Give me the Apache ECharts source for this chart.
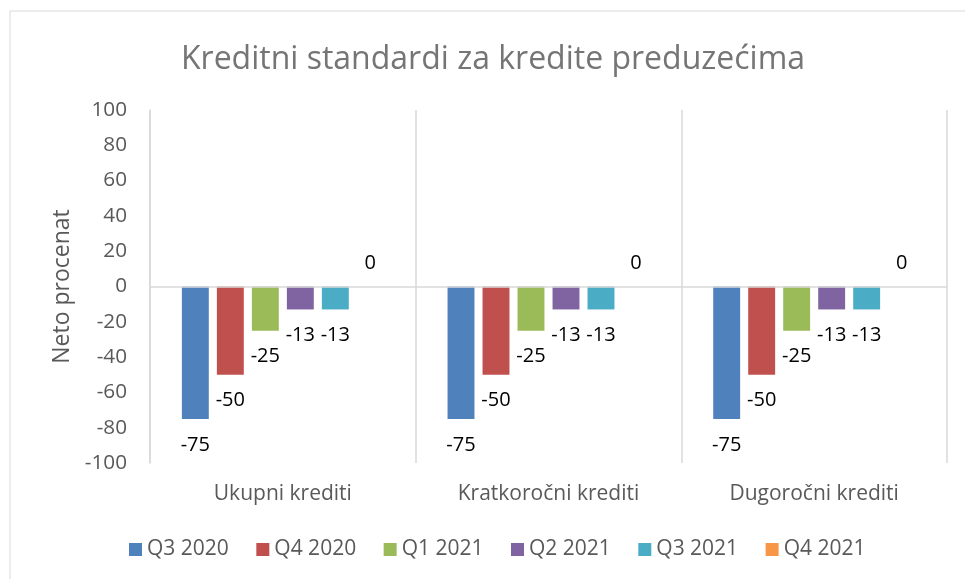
<!DOCTYPE html>
<html>
<head>
<meta charset="utf-8">
<script src="https://cdn.jsdelivr.net/npm/echarts@6/dist/echarts.min.js"></script>
<style>
html,body{margin:0;padding:0;background:#fff;}
#chart{width:965px;height:579px;}
</style>
</head>
<body>
<div id="chart"></div>
<script>
const categories = ['Ukupni krediti', 'Kratkoročni krediti', 'Dugoročni krediti'];
const seriesNames = ['Q3 2020', 'Q4 2020', 'Q1 2021', 'Q2 2021', 'Q3 2021', 'Q4 2021'];
const q3_2020 = [-75, -75, -75];
const q4_2020 = [-50, -50, -50];
const q1_2021 = [-25, -25, -25];
const q2_2021 = [-13, -13, -13];
const q3_2021 = [-13, -13, -13];
const q4_2021 = [0, 0, 0];
const seriesValues = [q3_2020, q4_2020, q1_2021, q2_2021, q3_2021, q4_2021];
const yMin = -100, yMax = 100, yStep = 20;

const colors = ['#4F81BD', '#C0504D', '#9BBB59', '#8064A2', '#4BACC6', '#F79646'];
const FONT = '"Open Sans", "Noto Sans", sans-serif';

const chart = echarts.init(document.getElementById('chart'), null, {renderer: 'canvas'});

const series = seriesValues.map((vals, i) => ({
  name: seriesNames[i],
  type: 'bar',
  barGap: '30%',
  barCategoryGap: '24%',
  itemStyle: {color: colors[i]},
  data: vals.map(v => ({
    value: v,
    label: v < 0 ? {position: 'bottom', distance: 16} : {position: 'top', distance: 13}
  })),
  label: {
    show: true,
    color: '#000',
    fontFamily: FONT,
    fontSize: 20,
    lineHeight: 20,
    formatter: '{c}'
  },
  markLine: i === 0 ? {
    silent: true,
    symbol: ['none', 'none'],
    label: {show: false},
    lineStyle: {color: '#d9d9d9', width: 1.5, type: 'solid'},
    data: [{yAxis: 0}]
  } : undefined
}));

chart.setOption({
  animation: false,
  color: colors,
  title: {
    text: 'Kreditni standardi za kredite preduzećima',
    left: 488,
    textAlign: 'center',
    top: 38,
    textStyle: {color: '#757575', fontFamily: FONT, fontSize: 32, fontWeight: 'normal', lineHeight: 34}
  },
  graphic: [{
    type: 'rect',
    shape: {x: 10, y: 11, width: 1000, height: 620},
    style: {fill: 'none', stroke: '#d9d9d9', lineWidth: 1},
    silent: true
  }],
  legend: {
    data: seriesNames,
    left: 124,
    top: 534,
    itemWidth: 13,
    itemHeight: 13,
    itemGap: 27.5,
    icon: 'rect',
    textStyle: {color: '#595959', fontFamily: FONT, fontSize: 21}
  },
  grid: {left: 150, right: 18, top: 110, bottom: 116, containLabel: false},
  xAxis: {
    type: 'category',
    data: categories,
    axisLine: {show: false, onZero: false},
    axisTick: {show: false},
    splitLine: {show: true, lineStyle: {color: '#d9d9d9', width: 1.5}},
    axisLabel: {color: '#595959', fontFamily: FONT, fontSize: 21, margin: 21}
  },
  yAxis: {
    type: 'value',
    min: yMin,
    max: yMax,
    interval: yStep,
    name: 'Neto procenat',
    nameLocation: 'middle',
    nameGap: 76,
    nameTextStyle: {color: '#595959', fontFamily: FONT, fontSize: 23},
    axisLine: {show: true, lineStyle: {color: '#d9d9d9', width: 1.5}},
    axisTick: {show: false},
    splitLine: {show: false},
    axisLabel: {color: '#595959', fontFamily: FONT, fontSize: 20.7, margin: 23}
  },
  series: series
});
</script>
</body>
</html>
